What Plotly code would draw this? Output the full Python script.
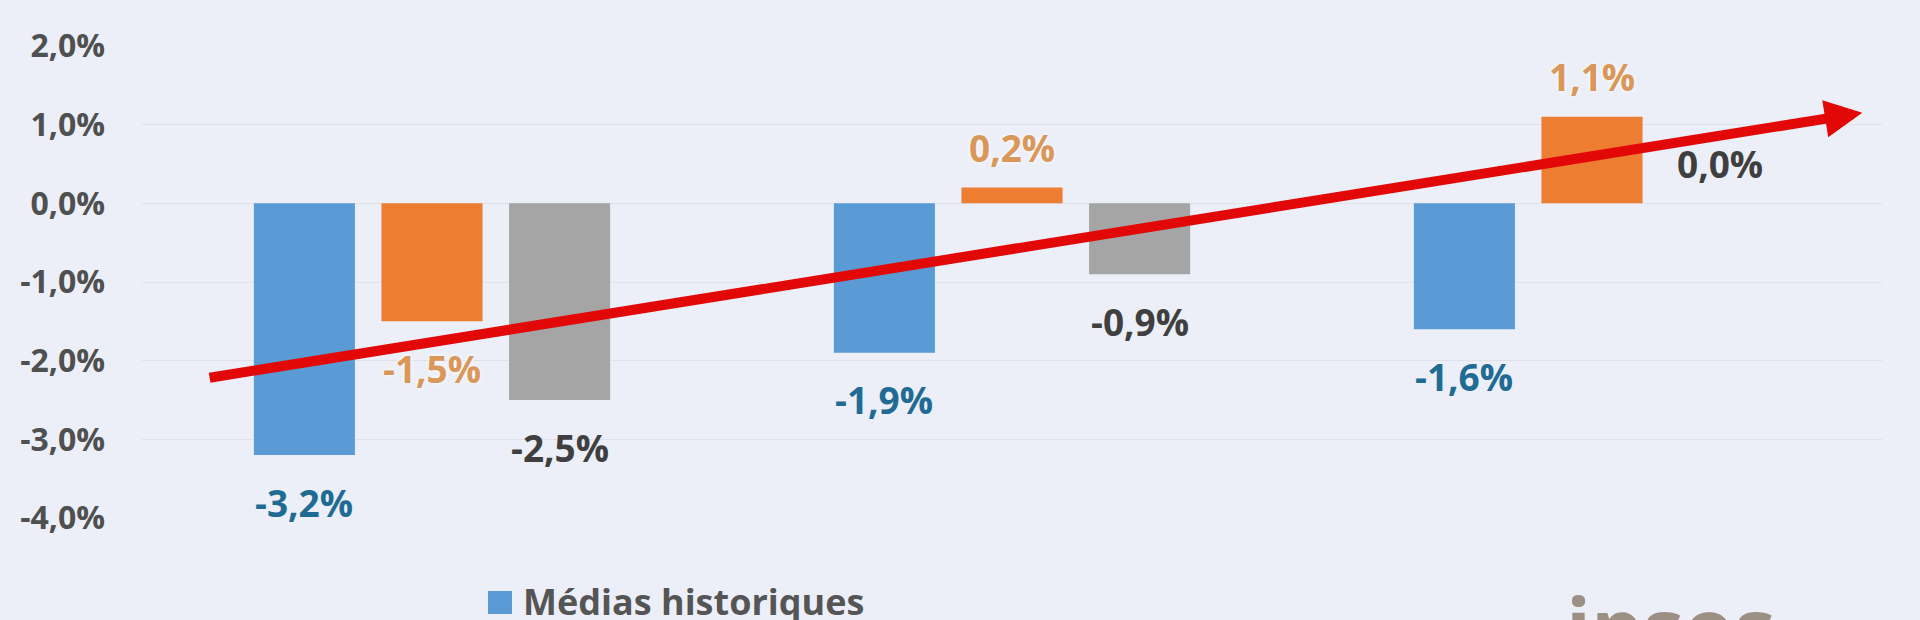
import plotly.graph_objects as go

# ---------------- data ----------------
categories = ["Groupe 1", "Groupe 2", "Groupe 3"]
medias_historiques = [-3.2, -1.9, -1.6]
serie_orange = [-1.5, 0.2, 1.1]
serie_grise = [-2.5, -0.9, 0.0]
series_names = ["Médias historiques", "Série 2", "Série 3"]

tick_values = [2, 1, 0, -1, -2, -3, -4]
tick_labels = ["2,0%", "1,0%", "0,0%", "-1,0%", "-2,0%", "-3,0%", "-4,0%"]

# trend arrow (start / end in axis units: category index, percent)
trend_start = (-0.386, -2.22)
trend_end = (2.466, 1.15)

# ---------------- style ----------------
BG = "#ECEFF8"
GRID = "#DFE2EB"
BAR_COLORS = ["#5B9BD5", "#ED7D31", "#A5A5A5"]
LABEL_COLORS = ["#1F6B94", "#D9975A", "#3F3F3F"]
RED = "#E20808"
FONT = "Open Sans"
BARGAP = 0.34
BARGROUPGAP = 0.208

W, H = 1920, 620
ML, MR, MT, MB = 142, 38, 46, 102
PW = W - ML - MR
PH = H - MT - MB


def px_x(p):
    return (p - ML) / PW


def px_y(p):
    return (H - MB - p) / PH


def fmt(v):
    return f"{v:.1f}%".replace(".", ",")


fig = go.Figure()
all_series = [medias_historiques, serie_orange, serie_grise]
for name, vals, color in zip(series_names, all_series, BAR_COLORS):
    fig.add_trace(go.Bar(
        x=categories, y=vals, name=name,
        marker=dict(color=color, line=dict(width=0)),
        showlegend=False,
    ))

# trend arrow
fig.add_annotation(
    x=trend_end[0], y=trend_end[1], ax=trend_start[0], ay=trend_start[1],
    xref="x", yref="y", axref="x", ayref="y",
    text="", showarrow=True, arrowhead=2, arrowsize=0.75,
    arrowwidth=10, arrowcolor=RED, standoff=0, startstandoff=0,
)

# data labels
n = len(all_series)
slot = (1 - BARGAP) / n
for k, (vals, lc) in enumerate(zip(all_series, LABEL_COLORS)):
    for i, v in enumerate(vals):
        xpos = i + (k - (n - 1) / 2) * slot
        shadow = "0 0 4px #ffffff" if k == 1 else "none"
        fig.add_annotation(
            x=xpos, y=v, xref="x", yref="y",
            text=fmt(v), showarrow=False,
            yshift=-47 if v < 0 else 40,
            font=dict(family=FONT, size=37, color=lc, weight=700, shadow=shadow),
        )

# manual legend (first row, partially visible as in the source)
fig.add_shape(
    type="rect", xref="paper", yref="paper",
    x0=px_x(488), x1=px_x(512), y0=px_y(614), y1=px_y(591),
    fillcolor=BAR_COLORS[0], line=dict(width=0),
)
fig.add_annotation(
    x=px_x(521), y=px_y(601), xref="paper", yref="paper",
    xanchor="left", yanchor="middle", showarrow=False,
    text=series_names[0],
    font=dict(family=FONT, size=36, color="#555555", weight=700),
)

# cropped logo at the bottom right
fig.add_annotation(
    x=px_x(1564), y=px_y(568), xref="paper", yref="paper",
    xanchor="left", yanchor="top", showarrow=False,
    text="ipsos",
    font=dict(family=FONT, size=82, color="#9C8F84", weight=700),
)

fig.update_layout(
    width=W, height=H, autosize=False,
    margin=dict(l=ML, r=MR, t=MT, b=MB, pad=0),
    plot_bgcolor=BG, paper_bgcolor=BG,
    barmode="group", bargap=BARGAP, bargroupgap=BARGROUPGAP,
    font=dict(family=FONT),
    showlegend=False,
    xaxis=dict(
        range=[-0.5, 2.5], showticklabels=False, showgrid=False,
        zeroline=False, showline=False, ticks="",
    ),
    yaxis=dict(
        range=[-4, 2], tickvals=tick_values, ticktext=tick_labels,
        showgrid=True, gridcolor=GRID, gridwidth=1,
        zeroline=False, showline=False, ticks="",
        ticklabelstandoff=36,
        tickfont=dict(family=FONT, size=32, color="#505050", weight=700),
    ),
)

fig.write_html(
    "out.html",
    config={"displayModeBar": False},
    post_script="document.body.style.margin='0';document.body.style.padding='0';"
                "document.body.style.background='" + BG + "';",
)
